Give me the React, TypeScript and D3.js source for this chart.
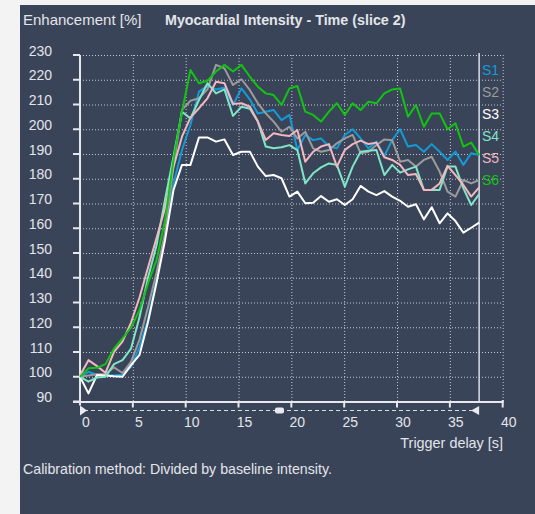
import React from "react";
import * as d3 from "d3";

// ---------- data ----------
const times = [
  0, 0.8, 1.61, 2.41, 3.22, 4.02, 4.83, 5.63, 6.43, 7.24,
  8.04, 8.85, 9.65, 10.45, 11.26, 12.06, 12.87, 13.67, 14.48, 15.28,
  16.08, 16.83, 17.58, 18.32, 19.07, 19.82, 20.57, 21.32, 22.06, 22.81,
  23.56, 24.31, 25.06, 25.8, 26.55, 27.3, 28.05, 28.8, 29.54, 30.29,
  31.04, 31.79, 32.54, 33.28, 34.03, 34.78, 35.53, 36.28, 37.02, 37.77,
];

const s1 = [
  100, 102, 100.7, 100.7, 100.5, 100.8, 104, 112, 123, 139,
  156.6, 178.1, 191.6, 201.7, 215.2, 217.5, 216.1, 216.9, 209.8, 216.5,
  212, 206.4, 207.1, 207.8, 203.7, 205.8, 191.6, 197.7, 195.6, 196.3,
  193.0, 192.3, 197.7, 200.0, 196.3, 192.3, 195.0, 189.2, 195.6, 200.0,
  193.0, 193.6, 190.9, 194.0, 190.9, 187.6, 190.9, 185.6, 190.3, 189.6,
];
const s2 = [
  100, 100.5, 101, 101, 103.8, 101.5, 106, 115, 128, 142,
  158, 185, 207.8, 211.5, 212.5, 216.1, 226.0, 224.6, 217.9, 220.2,
  215.8, 210.5, 206.4, 203.1, 199.0, 201.0, 196.3, 199.0, 192.3, 190.9,
  191.6, 194.3, 196.3, 197.7, 190.3, 190.9, 193.6, 195.9, 195.6, 186.9,
  187.6, 184.9, 187.6, 188.9, 182.9, 174.8, 172.8, 179.5, 178.1, 179.5,
];
const s3 = [
  100, 93.3, 100.7, 100.5, 100.2, 100, 104.7, 108.8, 122, 138,
  155, 175.5, 185.6, 185.6, 196.7, 196.7, 195.0, 195.9, 189.6, 190.9,
  190.9, 184.9, 181.1, 181.5, 180.2, 172.8, 174.8, 170.1, 170.3, 173.0,
  170.7, 171.7, 169.4, 171.7, 177.1, 174.8, 173.4, 175.0, 172.8, 171.1,
  168.7, 169.7, 163.6, 168.5, 162.0, 166.0, 162.9, 158.2, 160.2, 162.3,
];
const s4 = [
  100, 98, 99.7, 100, 105.1, 106.7, 111.4, 124, 140, 153,
  171.4, 188.9, 207.1, 204.4, 211.8, 218.6, 214.5, 216.1, 205.4, 209.1,
  208.3, 203.1, 193.0, 192.3, 192.7, 193.6, 191.6, 178.1, 182.2, 184.6,
  186.2, 185.6, 176.8, 184.9, 190.9, 191.3, 191.6, 181.5, 185.6, 182.5,
  183.8, 184.9, 175.5, 175.5, 175.5, 185.0, 184.9, 176.1, 169.4, 173.8,
];
const s5 = [
  100.5, 106.7, 104.3, 101.6, 110.1, 114.2, 121.9, 132, 144, 156,
  168, 184.9, 197.0, 204.7, 208.5, 212.5, 219.2, 218.6, 210.2, 210.5,
  209.1, 203.1, 195.7, 198.4, 197.7, 197.3, 199.7, 186.9, 190.9, 193.0,
  194.0, 184.9, 191.6, 194.0, 195.4, 194.0, 194.6, 188.7, 187.6, 185.6,
  181.5, 181.9, 175.5, 175.5, 178.1, 185.2, 181.5, 177.5, 172.8, 176.5,
];
const s6 = [
  100, 103.4, 103.6, 105.1, 111.4, 115.5, 119.9, 126.9, 137.7, 147.1,
  163, 187.6, 207.1, 223.9, 218.6, 219.6, 223.3, 226.0, 223.3, 226.0,
  221.2, 217.2, 214.5, 213.8, 209.8, 216.5, 217.5, 207.1, 205.8, 203.1,
  207.1, 210.5, 205.8, 210.5, 207.8, 211.1, 210.5, 214.5, 216.1, 216.5,
  205.1, 209.8, 201.0, 206.4, 206.4, 200.0, 202.4, 193.0, 194.6, 189.6,
];

const seriesNames = ["S1", "S2", "S3", "S4", "S5", "S6"];
const seriesValues = [s1, s2, s3, s4, s5, s6];
const seriesColors = ["#159ad8", "#9b9b9b", "#ffffff", "#7fe6c8", "#f2b7c0", "#12c412"];

const yTicks = [90, 100, 110, 120, 130, 140, 150, 160, 170, 180, 190, 200, 210, 220, 230];
const xTicks = [0, 5, 10, 15, 20, 25, 30, 35, 40];

const titleText = "Myocardial Intensity - Time (slice 2)";
const yAxisTitle = "Enhancement [%]";
const xAxisTitle = "Trigger delay [s]";
const footnote = "Calibration method: Divided by baseline intensity.";

// ---------- layout ----------
const W = 535;
const H = 514;
const FONT = "'Liberation Sans', Arial, sans-serif";
const PANEL = "#3a4459";
const AXIS = "#e6e8ec";
const GRID = "#c3c8d2";
const TEXT = "#e3e5e9";

export default function App() {
  const x = d3.scaleLinear().domain([0, 40]).range([80, 502.7]);
  const y = d3.scaleLinear().domain([90, 230]).range([401.5, 55]);
  const line = d3
    .line<number>()
    .x((_, i) => x(times[i]))
    .y((v) => y(v));

  const tEnd = times[times.length - 1];
  const axisY = y(90);

  return (
    <svg
      width={W}
      height={H}
      style={{ position: "absolute", left: 0, top: 0, display: "block" }}
      fontFamily={FONT}
    >
      <rect x={0} y={0} width={W} height={H} fill="#f3f3f4" />
      <rect x={20} y={5} width={W - 20} height={H - 5} fill={PANEL} />

      {/* header texts */}
      <text x={23} y={25} fontSize={15} fill={TEXT}>
        {yAxisTitle}
      </text>
      <text x={165} y={25} fontSize={14.3} fontWeight="bold" fill={TEXT}>
        {titleText}
      </text>

      {/* grid */}
      {yTicks
        .filter((v) => v > 90)
        .map((v) => (
          <line
            key={"gy" + v}
            x1={83}
            x2={x(40)}
            y1={y(v) + 0.5}
            y2={y(v) + 0.5}
            stroke={GRID}
            strokeWidth={1}
            strokeDasharray="1 2"
          />
        ))}
      {xTicks
        .filter((t) => t > 0)
        .map((t) => (
          <line
            key={"gx" + t}
            x1={x(t) + 0.5}
            x2={x(t) + 0.5}
            y1={y(230)}
            y2={axisY}
            stroke={GRID}
            strokeWidth={1}
            strokeDasharray="1 2"
          />
        ))}

      {/* end marker vertical line */}
      <line x1={x(tEnd)} x2={x(tEnd)} y1={y(230) - 2} y2={axisY} stroke="#d9dde6" strokeWidth={1.5} />

      {/* y axis */}
      <line x1={80} x2={80} y1={y(230)} y2={axisY + 4} stroke={AXIS} strokeWidth={2} />
      {yTicks.map((v) => (
        <g key={"yt" + v}>
          <line x1={73} x2={80} y1={y(v)} y2={y(v)} stroke={AXIS} strokeWidth={2} />
          <text x={52} y={y(v) + 0.5} fontSize={14} textAnchor="end" fill={TEXT}>
            {v}
          </text>
        </g>
      ))}

      {/* x axis */}
      <line x1={73} x2={x(40) + 1} y1={axisY + 0.5} y2={axisY + 0.5} stroke={AXIS} strokeWidth={2} />
      {xTicks
        .filter((t) => t > 0)
        .map((t) => (
          <line
            key={"xt" + t}
            x1={x(t)}
            x2={x(t)}
            y1={t === 40 ? axisY - 1.5 : axisY}
            y2={axisY + 6}
            stroke={AXIS}
            strokeWidth={2}
          />
        ))}
      {xTicks.map((t) => (
        <text key={"xl" + t} x={x(t) + 6} y={427} fontSize={14} textAnchor="middle" fill={TEXT}>
          {t}
        </text>
      ))}
      <text x={503} y={448} fontSize={14.4} textAnchor="end" fill={TEXT}>
        {xAxisTitle}
      </text>

      {/* range slider */}
      <line
        x1={x(0) + 4}
        x2={x(tEnd) - 4}
        y1={410.5}
        y2={410.5}
        stroke="#d8dce4"
        strokeWidth={1.2}
        strokeDasharray="4 3"
      />
      <path
        d={`M${x(0)},${405.5} L${x(0) + 7},${410.5} L${x(0)},${415.5} Z`}
        fill="#e8eaee"
      />
      <path
        d={`M${x(tEnd)},${406} L${x(tEnd) - 8},${410.5} L${x(tEnd)},${415} Z`}
        fill="#e8eaee"
      />
      <rect x={275} y={407.5} width={9} height={6} rx={2} fill="#e8eaee" />

      {/* series */}
      {seriesValues.map((vals, k) => (
        <path
          key={"s" + k}
          d={line(vals) || ""}
          fill="none"
          stroke={seriesColors[k]}
          strokeWidth={2}
          strokeLinejoin="round"
        />
      ))}

      {/* legend */}
      {seriesNames.map((n, k) => (
        <text key={"lg" + n} x={482} y={75 + k * 22} fontSize={14} fill={seriesColors[k]}>
          {n}
        </text>
      ))}

      {/* footnote */}
      <text x={23} y={474} fontSize={14.2} fill={TEXT}>
        {footnote}
      </text>
    </svg>
  );
}
